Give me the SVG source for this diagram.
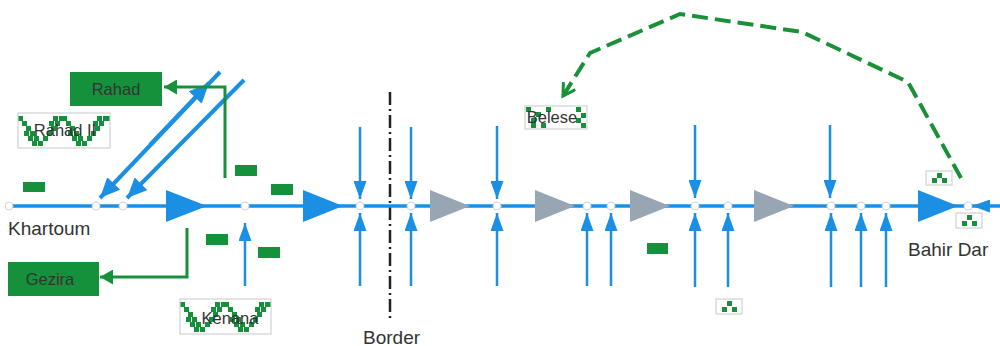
<svg xmlns="http://www.w3.org/2000/svg" width="1000" height="346" viewBox="0 0 1000 346">
<style>
.flow{stroke:#1a8fe3;fill:none}
.main{stroke-width:3.5}
.trib{stroke-width:2.5}
.node{fill:#fff;stroke:#c9d6e2;stroke-width:1}
.tb{fill:#1a8fe3}
.tg{fill:#98a5b3}
.gbox{fill:#15913c}
.wbox{fill:#fff;stroke:#c8c8c8;stroke-width:1}
.lab{font-family:"Liberation Sans",Arial,sans-serif;font-size:16.5px;fill:#333}
.big{font-family:"Liberation Sans",Arial,sans-serif;font-size:19px;fill:#333}
.sq{fill:#15913c}
.gline{stroke:#16903a;stroke-width:3;fill:none}
</style>
<defs>
<marker id="ah" markerUnits="userSpaceOnUse" markerWidth="18" markerHeight="13" refX="18" refY="6.5" orient="auto"><path d="M0,0L18,6.5L0,13z" fill="#1a8fe3"/></marker>
<marker id="ahBig" markerUnits="userSpaceOnUse" markerWidth="20" markerHeight="18" refX="20" refY="9" orient="auto"><path d="M0,0L20,9L0,18z" fill="#1a8fe3"/></marker>
<marker id="ahG" markerUnits="userSpaceOnUse" markerWidth="14" markerHeight="15" refX="13" refY="7.5" orient="auto"><path d="M0,0L13,7.5L0,15z" fill="#16903a"/></marker>
<marker id="ahOpen" markerUnits="userSpaceOnUse" markerWidth="16" markerHeight="16" refX="13" refY="8" orient="auto"><path d="M1,1L13,8L1,15" fill="none" stroke="#1a9139" stroke-width="3"/></marker>
<pattern id="zig" patternUnits="userSpaceOnUse" width="44" height="35">
<rect class="sq" x="0" y="3" width="5" height="5"/><rect class="sq" x="4" y="8" width="5" height="5"/><rect class="sq" x="8" y="13" width="5" height="5"/><rect class="sq" x="12" y="18" width="5" height="5"/><rect class="sq" x="16" y="23" width="5" height="5"/><rect class="sq" x="20" y="28" width="5" height="5"/>
<rect class="sq" x="10" y="23" width="5" height="5"/><rect class="sq" x="14" y="28" width="5" height="5"/><rect class="sq" x="6" y="18" width="5" height="5"/>
<rect class="sq" x="25" y="23" width="5" height="5"/><rect class="sq" x="29" y="18" width="5" height="5"/><rect class="sq" x="33" y="13" width="5" height="5"/><rect class="sq" x="37" y="8" width="5" height="5"/><rect class="sq" x="41" y="3" width="3" height="5"/>
<rect class="sq" x="35" y="3" width="5" height="5"/><rect class="sq" x="31" y="8" width="5" height="5"/>
</pattern>
</defs>

<g id="border">
<line x1="390" y1="92" x2="390" y2="318" stroke="#222" stroke-width="2.5" stroke-dasharray="13,4,2,4"/>
<text class="big" x="363" y="344">Border</text>
</g>

<g id="connectors">
<line class="flow main" x1="9" y1="206" x2="964" y2="206"/>
<line class="flow main" x1="1000" y1="206" x2="972" y2="206" marker-end="url(#ah)"/>
<line class="flow trib" x1="360" y1="127" x2="360" y2="199" marker-end="url(#ah)"/>
<line class="flow trib" x1="411" y1="127" x2="411" y2="199" marker-end="url(#ah)"/>
<line class="flow trib" x1="497" y1="126" x2="497" y2="199" marker-end="url(#ah)"/>
<line class="flow trib" x1="695" y1="125" x2="695" y2="198" marker-end="url(#ah)"/>
<line class="flow trib" x1="830" y1="125" x2="830" y2="198" marker-end="url(#ah)"/>
<line class="flow trib" x1="245" y1="286" x2="245" y2="223" marker-end="url(#ah)"/>
<line class="flow trib" x1="360" y1="286" x2="360" y2="213" marker-end="url(#ah)"/>
<line class="flow trib" x1="411" y1="286" x2="411" y2="213" marker-end="url(#ah)"/>
<line class="flow trib" x1="497" y1="286" x2="497" y2="213" marker-end="url(#ah)"/>
<line class="flow trib" x1="587" y1="286" x2="587" y2="213" marker-end="url(#ah)"/>
<line class="flow trib" x1="611" y1="286" x2="611" y2="213" marker-end="url(#ah)"/>
<line class="flow trib" x1="695" y1="287" x2="695" y2="213" marker-end="url(#ah)"/>
<line class="flow trib" x1="728" y1="287" x2="728" y2="213" marker-end="url(#ah)"/>
<line class="flow trib" x1="831" y1="287" x2="831" y2="213" marker-end="url(#ah)"/>
<line class="flow trib" x1="861" y1="287" x2="861" y2="213" marker-end="url(#ah)"/>
<line class="flow trib" x1="886" y1="287" x2="886" y2="213" marker-end="url(#ah)"/>
<line class="flow" stroke-width="4" x1="220" y1="72" x2="100" y2="198" marker-end="url(#ahBig)"/>
<line class="flow" stroke-width="4" x1="150" y1="145" x2="209" y2="83" marker-end="url(#ahBig)"/>
<line class="flow" stroke-width="4" x1="244" y1="80" x2="127" y2="198" marker-end="url(#ahBig)"/>
<polyline class="gline" points="225,178 225,87 164,87" marker-end="url(#ahG)"/>
<polyline class="gline" points="187,228 187,277 100,277" marker-end="url(#ahG)"/>
<polyline points="961,178 908,82 802,32 680,14 590,53 563,96" fill="none" stroke="#1a9139" stroke-width="4" stroke-dasharray="16,7" marker-end="url(#ahOpen)"/>
</g>

<g id="dams">
<path class="tb" d="M166,190L207,206L166,222z"/>
<path class="tb" d="M303,190L343,206L303,222z"/>
<path class="tg" d="M430,190L470,206L430,222z"/>
<path class="tg" d="M535,190L575,206L535,222z"/>
<path class="tg" d="M630,190L670,206L630,222z"/>
<path class="tg" d="M754,190L794,206L754,222z"/>
<path class="tb" d="M918,190L958,206L918,222z"/>
</g>

<g id="nodes">
<circle class="node" cx="9" cy="206" r="4"/>
<circle class="node" cx="96" cy="206" r="4"/>
<circle class="node" cx="123" cy="206" r="4"/>
<circle class="node" cx="245" cy="206" r="4"/>
<circle class="node" cx="360" cy="206" r="4"/>
<circle class="node" cx="411" cy="206" r="4"/>
<circle class="node" cx="497" cy="206" r="4"/>
<circle class="node" cx="587" cy="206" r="4"/>
<circle class="node" cx="611" cy="206" r="4"/>
<circle class="node" cx="695" cy="206" r="4"/>
<circle class="node" cx="728" cy="206" r="4"/>
<circle class="node" cx="831" cy="206" r="4"/>
<circle class="node" cx="861" cy="206" r="4"/>
<circle class="node" cx="886" cy="206" r="4"/>
<circle class="node" cx="968" cy="206" r="4"/>
</g>

<g id="irrigation-small">
<rect class="gbox" x="23" y="182" width="22" height="10"/>
<rect class="gbox" x="235" y="165" width="22" height="11"/>
<rect class="gbox" x="271" y="184" width="22" height="11"/>
<rect class="gbox" x="206" y="234" width="22" height="11"/>
<rect class="gbox" x="258" y="247" width="22" height="11"/>
<rect class="gbox" x="647" y="243" width="21" height="11"/>
</g>

<g id="rahad">
<rect class="gbox" x="70" y="72" width="92" height="34"/>
<text class="lab" x="116" y="95" text-anchor="middle">Rahad</text>
</g>

<g id="rahad-ii" transform="translate(18,113)">
<rect class="wbox" x="0" y="0" width="92" height="35"/>
<rect x="0.5" y="0.5" width="91" height="34" fill="url(#zig)"/>
<text class="lab" x="47" y="23" text-anchor="middle">Rahad II</text>
</g>

<g id="gezira">
<rect class="gbox" x="8" y="262" width="91" height="34"/>
<text class="lab" x="50" y="285" text-anchor="middle">Gezira</text>
</g>

<g id="kenana" transform="translate(180,299)">
<rect class="wbox" x="0" y="0" width="91" height="35"/>
<rect x="0.5" y="0.5" width="90" height="34" fill="url(#zig)"/>
<text class="lab" x="50" y="25" text-anchor="middle">Kenana</text>
</g>

<g id="belese" transform="translate(525,106)">
<rect class="wbox" x="0" y="0" width="62" height="23"/>
<rect class="sq" x="1" y="1" width="5" height="5"/><rect class="sq" x="11" y="6" width="5" height="5"/><rect class="sq" x="6" y="12" width="5" height="5"/><rect class="sq" x="16" y="17" width="5" height="5"/><rect class="sq" x="6" y="17" width="5" height="5"/><rect class="sq" x="21" y="1" width="5" height="5"/>
<rect class="sq" x="51" y="1" width="5" height="5"/><rect class="sq" x="56" y="7" width="5" height="5"/><rect class="sq" x="51" y="12" width="5" height="5"/><rect class="sq" x="56" y="17" width="5" height="5"/>
<text class="lab" x="27" y="17" text-anchor="middle">Belese</text>
</g>

<g id="tana-beles" transform="translate(926,171)">
<rect class="wbox" x="0" y="0" width="26" height="14"/>
<rect class="sq" x="11" y="2" width="5" height="5"/><rect class="sq" x="6" y="7" width="5" height="5"/><rect class="sq" x="16" y="7" width="5" height="5"/>
</g>
<g id="tana" transform="translate(956,213)">
<rect class="wbox" x="0" y="0" width="26" height="15"/>
<rect class="sq" x="11" y="2" width="5" height="5"/><rect class="sq" x="6" y="8" width="5" height="5"/><rect class="sq" x="16" y="8" width="5" height="5"/>
</g>
<g id="small-scheme" transform="translate(716,299)">
<rect class="wbox" x="0" y="0" width="26" height="15"/>
<rect class="sq" x="11" y="2" width="5" height="5"/><rect class="sq" x="6" y="8" width="5" height="5"/><rect class="sq" x="16" y="8" width="5" height="5"/>
</g>

<g id="khartoum"><text class="big" x="8" y="235">Khartoum</text></g>
<g id="bahir-dar"><text class="big" x="908" y="256">Bahir Dar</text></g>
</svg>
